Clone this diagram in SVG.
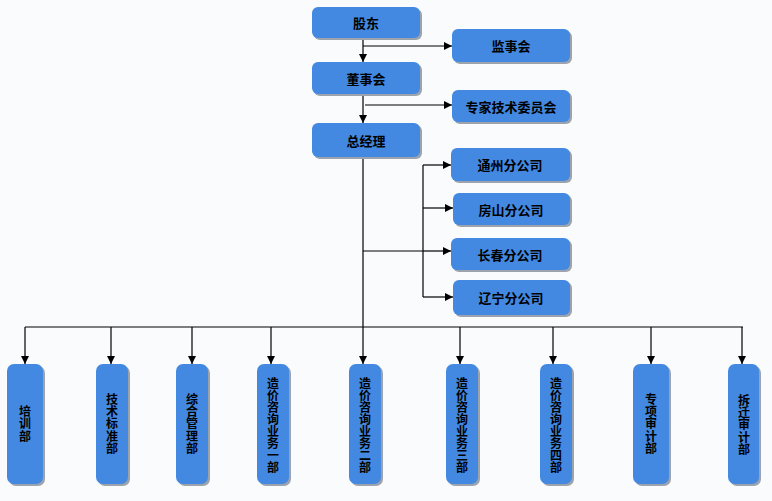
<svg xmlns="http://www.w3.org/2000/svg" width="772" height="501" viewBox="0 0 772 501">
<defs>
<style>
.box{fill:#4389E2;}
.sh{fill:#9CA3AD;}
.t{font-family:"Noto Sans CJK SC","Noto Sans",sans-serif;font-size:13px;font-weight:bold;fill:#000;text-anchor:middle;dominant-baseline:central;}
.v{font-family:"Noto Sans CJK SC","Noto Sans",sans-serif;font-size:12px;font-weight:bold;fill:#000;text-anchor:middle;}
.ln{stroke:#000;stroke-width:1.2;fill:none;}
</style>
<marker id="ah" viewBox="0 0 10 10" refX="10" refY="5" markerWidth="8" markerHeight="8" markerUnits="userSpaceOnUse" orient="auto">
<path d="M0,0 L10,5 L0,10 Z" fill="#000"/>
</marker>
</defs>
<rect width="772" height="501" fill="#FAFBFC"/>

<g id="connectors">
<path class="ln" d="M363,38 V62" marker-end="url(#ah)"/>
<path class="ln" d="M363,46 H452" marker-end="url(#ah)"/>
<path class="ln" d="M363,94 V123" marker-end="url(#ah)"/>
<path class="ln" d="M365,105 H452" marker-end="url(#ah)"/>
<path class="ln" d="M363,157 V327"/>
<path class="ln" d="M363,251 H423"/>
<path class="ln" d="M423,165 V297"/>
<path class="ln" d="M423,165 H451" marker-end="url(#ah)"/>
<path class="ln" d="M423,208 H453" marker-end="url(#ah)"/>
<path class="ln" d="M423,251 H451" marker-end="url(#ah)"/>
<path class="ln" d="M423,297 H453" marker-end="url(#ah)"/>
<path class="ln" d="M25,327 H743"/>
<path class="ln" d="M25,327 V364" marker-end="url(#ah)"/>
<path class="ln" d="M111,327 V364" marker-end="url(#ah)"/>
<path class="ln" d="M192,327 V364" marker-end="url(#ah)"/>
<path class="ln" d="M271,327 V364" marker-end="url(#ah)"/>
<path class="ln" d="M363,327 V364" marker-end="url(#ah)"/>
<path class="ln" d="M460,327 V364" marker-end="url(#ah)"/>
<path class="ln" d="M553,327 V364" marker-end="url(#ah)"/>
<path class="ln" d="M651,327 V364" marker-end="url(#ah)"/>
<path class="ln" d="M742,327 V364" marker-end="url(#ah)"/>
</g>

<g id="gudong"><rect class="sh" x="314" y="9" width="108" height="31" rx="6"/><rect class="box" x="312" y="7" width="108" height="31" rx="6"/><text class="t" x="366" y="22.5">股东</text></g>
<g id="jianshihui"><rect class="sh" x="454" y="31" width="118" height="33" rx="6"/><rect class="box" x="452" y="29" width="118" height="33" rx="6"/><text class="t" x="511" y="45.5">监事会</text></g>
<g id="dongshihui"><rect class="sh" x="314" y="64" width="108" height="32" rx="6"/><rect class="box" x="312" y="62" width="108" height="32" rx="6"/><text class="t" x="366" y="78">董事会</text></g>
<g id="zhuanjia"><rect class="sh" x="454" y="92" width="118" height="32" rx="6"/><rect class="box" x="452" y="90" width="118" height="32" rx="6"/><text class="t" x="511" y="106">专家技术委员会</text></g>
<g id="zongjingli"><rect class="sh" x="314" y="125" width="108" height="34" rx="6"/><rect class="box" x="312" y="123" width="108" height="34" rx="6"/><text class="t" x="366" y="140">总经理</text></g>

<g id="tongzhou"><rect class="sh" x="453" y="150" width="119" height="33" rx="6"/><rect class="box" x="451" y="148" width="119" height="33" rx="6"/><text class="t" x="510" y="164.5">通州分公司</text></g>
<g id="fangshan"><rect class="sh" x="455" y="195" width="117" height="32" rx="6"/><rect class="box" x="453" y="193" width="117" height="32" rx="6"/><text class="t" x="511" y="209">房山分公司</text></g>
<g id="changchun"><rect class="sh" x="453" y="240" width="119" height="32" rx="6"/><rect class="box" x="451" y="238" width="119" height="32" rx="6"/><text class="t" x="510" y="254">长春分公司</text></g>
<g id="liaoning"><rect class="sh" x="455" y="282" width="117" height="35" rx="6"/><rect class="box" x="453" y="280" width="117" height="35" rx="6"/><text class="t" x="511" y="297.5">辽宁分公司</text></g>

<g id="peixun"><rect class="sh" x="9" y="366" width="36" height="120" rx="7"/><rect class="box" x="7" y="364" width="36" height="120" rx="7"/>
<text class="v" x="25" y="416"><tspan x="25">培</tspan><tspan x="25" dy="12.3">训</tspan><tspan x="25" dy="12.3">部</tspan></text></g>
<g id="jishubiaozhun"><rect class="sh" x="98" y="366" width="32" height="120" rx="7"/><rect class="box" x="96" y="364" width="32" height="120" rx="7"/>
<text class="v" x="112" y="404"><tspan x="112">技</tspan><tspan x="112" dy="12.2">术</tspan><tspan x="112" dy="12.2">标</tspan><tspan x="112" dy="12.2">准</tspan><tspan x="112" dy="12.2">部</tspan></text></g>
<g id="zonghe"><rect class="sh" x="178" y="366" width="32" height="120" rx="7"/><rect class="box" x="176" y="364" width="32" height="120" rx="7"/>
<text class="v" x="192" y="404"><tspan x="192">综</tspan><tspan x="192" dy="12.2">合</tspan><tspan x="192" dy="12.2">管</tspan><tspan x="192" dy="12.2">理</tspan><tspan x="192" dy="12.2">部</tspan></text></g>
<g id="yewu1"><rect class="sh" x="259" y="366" width="32" height="120" rx="7"/><rect class="box" x="257" y="364" width="32" height="120" rx="7"/>
<text class="v" x="273" y="388"><tspan x="273">造</tspan><tspan x="273" dy="12">价</tspan><tspan x="273" dy="12">咨</tspan><tspan x="273" dy="12">询</tspan><tspan x="273" dy="12">业</tspan><tspan x="273" dy="12">务</tspan><tspan x="273" dy="12">一</tspan><tspan x="273" dy="12">部</tspan></text></g>
<g id="yewu2"><rect class="sh" x="351" y="366" width="32" height="120" rx="7"/><rect class="box" x="349" y="364" width="32" height="120" rx="7"/>
<text class="v" x="365" y="388"><tspan x="365">造</tspan><tspan x="365" dy="12">价</tspan><tspan x="365" dy="12">咨</tspan><tspan x="365" dy="12">询</tspan><tspan x="365" dy="12">业</tspan><tspan x="365" dy="12">务</tspan><tspan x="365" dy="12">二</tspan><tspan x="365" dy="12">部</tspan></text></g>
<g id="yewu3"><rect class="sh" x="448" y="366" width="32" height="120" rx="7"/><rect class="box" x="446" y="364" width="32" height="120" rx="7"/>
<text class="v" x="462" y="388"><tspan x="462">造</tspan><tspan x="462" dy="12">价</tspan><tspan x="462" dy="12">咨</tspan><tspan x="462" dy="12">询</tspan><tspan x="462" dy="12">业</tspan><tspan x="462" dy="12">务</tspan><tspan x="462" dy="12">三</tspan><tspan x="462" dy="12">部</tspan></text></g>
<g id="yewu4"><rect class="sh" x="542" y="366" width="32" height="120" rx="7"/><rect class="box" x="540" y="364" width="32" height="120" rx="7"/>
<text class="v" x="556" y="388"><tspan x="556">造</tspan><tspan x="556" dy="12">价</tspan><tspan x="556" dy="12">咨</tspan><tspan x="556" dy="12">询</tspan><tspan x="556" dy="12">业</tspan><tspan x="556" dy="12">务</tspan><tspan x="556" dy="12">四</tspan><tspan x="556" dy="12">部</tspan></text></g>
<g id="zhuanxiang"><rect class="sh" x="635" y="366" width="36" height="120" rx="7"/><rect class="box" x="633" y="364" width="36" height="120" rx="7"/>
<text class="v" x="651" y="404"><tspan x="651">专</tspan><tspan x="651" dy="12.2">项</tspan><tspan x="651" dy="12.2">审</tspan><tspan x="651" dy="12.2">计</tspan><tspan x="651" dy="12.2">部</tspan></text></g>
<g id="chaiqian"><rect class="sh" x="730" y="366" width="31" height="120" rx="7"/><rect class="box" x="728" y="364" width="31" height="120" rx="7"/>
<text class="v" x="744" y="405"><tspan x="744">拆</tspan><tspan x="744" dy="12.2">迁</tspan><tspan x="744" dy="12.2">审</tspan><tspan x="744" dy="12.2">计</tspan><tspan x="744" dy="12.2">部</tspan></text></g>
</svg>
